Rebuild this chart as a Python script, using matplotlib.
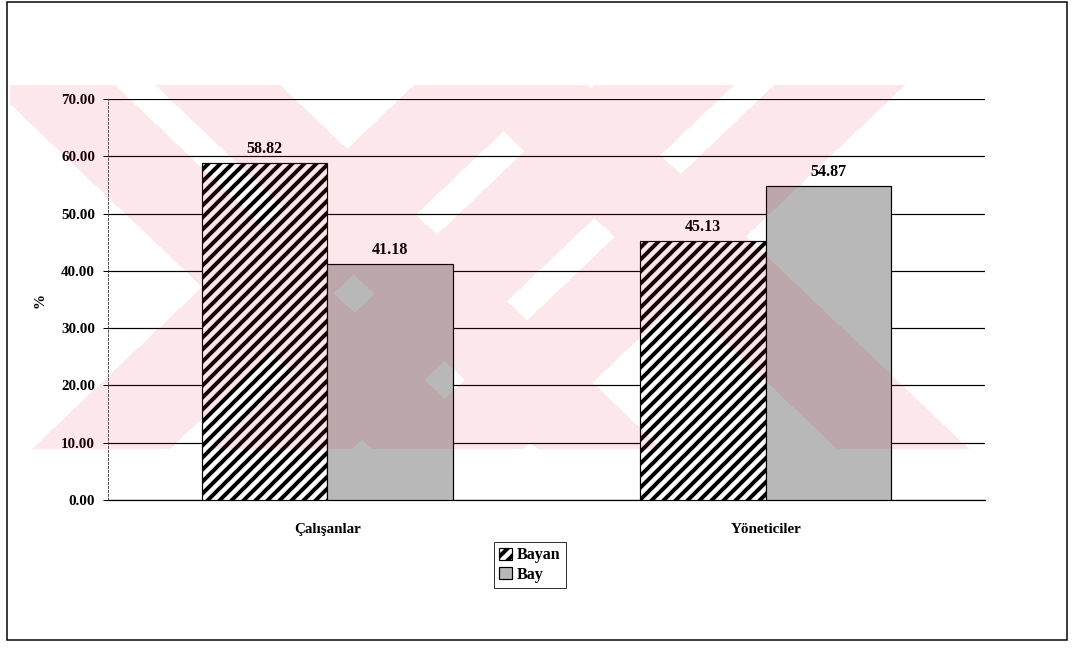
import numpy as np
import matplotlib.pyplot as plt
from matplotlib.patches import Rectangle

# percentages by gender for each group
categories = ['Çalışanlar', 'Yöneticiler']
series_names = ['Bayan', 'Bay']
bayan = [58.82, 45.13]
bay = [41.18, 54.87]
yticks = [0, 10, 20, 30, 40, 50, 60, 70]

W, H, DPI = 1074, 648, 72

plt.rcParams['font.family'] = ['Liberation Serif', 'DejaVu Serif']
plt.rcParams['font.weight'] = 'bold'
plt.rcParams['hatch.linewidth'] = 4.0

fig = plt.figure(figsize=(W / DPI, H / DPI), dpi=DPI)
ax = fig.add_axes([108 / W, 1 - 500 / H, 877 / W, 401 / H])

x = np.arange(len(categories))
w = 0.286
b1 = ax.bar(x - w / 2, bayan, w, facecolor='white', edgecolor='black',
            hatch='//', linewidth=1.2, label=series_names[0], zorder=3)
b2 = ax.bar(x + w / 2, bay, w, facecolor='#b8b8b8', edgecolor='black',
            linewidth=1.2, label=series_names[1], zorder=3)

for bars, vals in ((b1, bayan), (b2, bay)):
    for r, v in zip(bars, vals):
        ax.annotate(f'{v:.2f}', (r.get_x() + r.get_width() / 2, v),
                    xytext=(0, 6), textcoords='offset points',
                    ha='center', va='bottom', fontsize=16, fontweight='bold')

ax.set_xlim(-0.5, 1.5)
ax.set_ylim(0, 70)
ax.set_yticks(yticks)
ax.set_yticklabels([f'{t:.2f}' for t in yticks])
ax.set_xticks(x, categories)
ax.tick_params(axis='y', length=5, width=1, pad=8, labelsize=15)
ax.tick_params(axis='x', length=0, pad=23, labelsize=15)

ax.yaxis.grid(True, color='black', linewidth=1.2)
ax.set_axisbelow(True)
for s in ('top', 'right'):
    ax.spines[s].set_visible(False)
ax.spines['left'].set_linewidth(0.8)
ax.spines['left'].set_linestyle((0, (3, 2)))
ax.spines['left'].set_color('#333333')
ax.spines['bottom'].set_linewidth(1.2)

fig.text(40 / W, 1 - 300 / H, '%', rotation=90, ha='center', va='center',
         fontsize=15, fontweight='bold')

leg = fig.legend(handles=[b1, b2], loc='center',
                 bbox_to_anchor=(530 / W, 1 - 565 / H), fancybox=False,
                 edgecolor='black', fontsize=16, handlelength=0.8,
                 handleheight=0.8, handletextpad=0.3, labelspacing=0.2,
                 borderpad=0.35, borderaxespad=0)
leg.get_frame().set_linewidth(1.0)

# outer frame
fig.add_artist(Rectangle((7 / W, 1 - 640 / H), 1060 / W, 638 / H,
                         transform=fig.transFigure, fill=False,
                         edgecolor='black', linewidth=1.5))

# pale red striped stamp laid over the page
s = 1.05
yy, xx = np.mgrid[0:H, 0:W]
u = xx + s * (yy - 448)
v = xx - s * (yy - 85)
mask = np.zeros((H, W), bool)
for lo, hi in [(32, 170), (212, 352), (392, 523)]:
    mask |= (u >= lo) & (u <= hi)
for lo, hi in [(-10, 115), (155, 280), (455, 587)]:
    mask |= (v >= lo) & (v <= hi)
mask &= (xx >= 10) & (xx <= 990) & (yy >= 85) & (yy <= 448)
stamp = np.zeros((H, W, 4))
stamp[..., 0] = 225 / 255
stamp[..., 1] = 25 / 255
stamp[..., 2] = 55 / 255
stamp[..., 3] = mask * 0.1
fig.figimage(stamp, xo=0, yo=0, origin='upper', zorder=10)

fig.savefig('out.png', dpi=DPI, facecolor='white')
